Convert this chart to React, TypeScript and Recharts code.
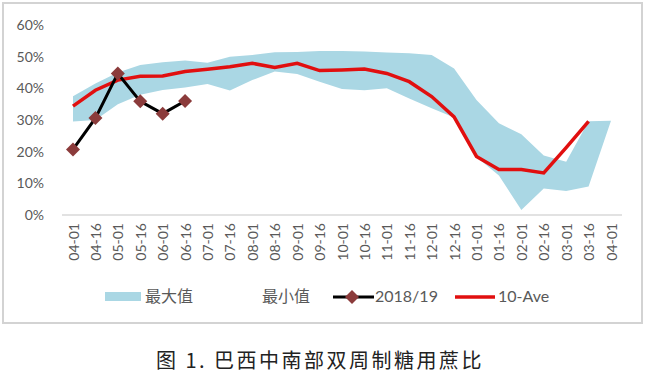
import { ComposedChart, Area, Line, XAxis, YAxis } from 'recharts';

// half-month periods, Apr to next Apr
const categories = [
  '04-01', '04-16', '05-01', '05-16', '06-01', '06-16', '07-01', '07-16', '08-01', '08-16',
  '09-01', '09-16', '10-01', '10-16', '11-01', '11-16', '12-01', '12-16', '01-01', '01-16',
  '02-01', '02-16', '03-01', '03-16', '04-01',
];

// values in %
const maxValues = [
  37.5, 41.5, 45, 47.4, 48.2, 48.8, 48.1, 50, 50.5, 51.4,
  51.5, 51.8, 51.8, 51.6, 51.3, 51.1, 50.5, 46.3, 36.3, 29,
  25.5, 18.8, 16.8, 29.6, 29.8,
];
const minValues = [
  29.5, 30, 35, 38, 39.5, 40.3, 41.4, 39.3, 42.6, 45.3,
  44.5, 42.1, 39.8, 39.4, 40, 36.8, 33.7, 30.8, 18.3, 12.5,
  1.6, 8.4, 7.6, 9, 29.8,
];
const season2018 = [20.7, 30.6, 44.7, 35.9, 32, 36];
const tenYearAve = [
  34.4, 39.4, 42.6, 43.8, 43.9, 45.3, 46, 46.8, 47.9, 46.6,
  47.9, 45.6, 45.8, 46.1, 44.7, 42.1, 37.4, 31, 18.5, 14.4,
  14.4, 13.3, 21.3, 29.6, null,
];
const yTicks = [0, 10, 20, 30, 40, 50, 60];

const BAND = '#aad7e4';
const RED = '#e10f0f';
const GREY = '#595959';
const FONT = 'Lato, "Noto Sans CJK SC", sans-serif';

const data = categories.map((c, i) => ({
  period: c,
  range: [minValues[i], maxValues[i]],
  cur: i < season2018.length ? season2018[i] : null,
  ave: tenYearAve[i],
}));

const XTick = ({ x, y, payload }: any) => (
  <g transform={`translate(${x},${y})`}>
    <text transform="rotate(-90)" x={0} y={0} textAnchor="end" dominantBaseline="central"
      fill={GREY} fontSize={14} fontFamily={FONT}>
      {payload.value}
    </text>
  </g>
);

const Diamond = ({ cx, cy }: any) => {
  if (cx == null || cy == null) return null;
  const r = 7;
  return <polygon points={`${cx},${cy - r} ${cx + r},${cy} ${cx},${cy + r} ${cx - r},${cy}`} fill="#8b3b3b" />;
};

const legendText: React.CSSProperties = {
  position: 'absolute', top: 285, fontSize: 16, color: GREY, fontFamily: FONT, lineHeight: '22px',
};

export default function App() {
  return (
    <div style={{ position: 'absolute', left: 0, top: 0, width: 646, height: 378, background: '#fff' }}>
      <div style={{ position: 'absolute', left: 2, top: 2, width: 641, height: 322, border: '2px solid #d3d3d3', boxSizing: 'border-box' }} />
      <div style={{ position: 'absolute', left: 0, top: 0 }}>
        <ComposedChart width={646} height={290} data={data} margin={{ top: 25, right: 24, bottom: 10, left: 0 }}>
          <XAxis dataKey="period" height={65} padding={{ left: 11, right: 11 }} interval={0}
            axisLine={{ stroke: '#d9d9d9', strokeWidth: 1.5 }} tickLine={false} tickSize={0} tickMargin={8}
            tick={<XTick />} />
          <YAxis width={62} domain={[0, 60]} ticks={yTicks} axisLine={false} tickLine={false}
            tickSize={0} tickMargin={18} tickFormatter={(v) => `${v}%`}
            tick={{ fill: GREY, fontSize: 14, fontFamily: FONT }} />
          <Area dataKey="range" type="linear" stroke="none" fill={BAND} fillOpacity={1} isAnimationActive={false} />
          <Line dataKey="ave" type="linear" stroke={RED} strokeWidth={3.5} dot={false} isAnimationActive={false} />
          <Line dataKey="cur" type="linear" stroke="#000" strokeWidth={3} dot={<Diamond />} activeDot={false} isAnimationActive={false} />
        </ComposedChart>
      </div>

      {/* legend */}
      <div style={{ position: 'absolute', left: 105, top: 292, width: 36, height: 9, background: BAND }} />
      <div style={{ ...legendText, left: 145 }}>最大值</div>
      <div style={{ ...legendText, left: 262 }}>最小值</div>
      <svg style={{ position: 'absolute', left: 333, top: 289 }} width={41} height={16}>
        <line x1={0} y1={8} x2={41} y2={8} stroke="#000" strokeWidth={3} />
        <polygon points="19,1 26,8 19,15 12,8" fill="#8b3b3b" />
      </svg>
      <div style={{ ...legendText, left: 375 }}>2018/19</div>
      <svg style={{ position: 'absolute', left: 455, top: 289 }} width={40} height={16}>
        <line x1={0} y1={8} x2={40} y2={8} stroke={RED} strokeWidth={3.5} />
      </svg>
      <div style={{ ...legendText, left: 498 }}>10-Ave</div>

      <div style={{ position: 'absolute', left: 0, width: 646, top: 347, textAlign: 'center', fontSize: 20, letterSpacing: 2.5,
        color: '#222', fontFamily: '"Noto Sans CJK SC", sans-serif', lineHeight: '26px', paddingRight: 6, boxSizing: 'border-box' }}>
        图 1. 巴西中南部双周制糖用蔗比
      </div>
    </div>
  );
}
